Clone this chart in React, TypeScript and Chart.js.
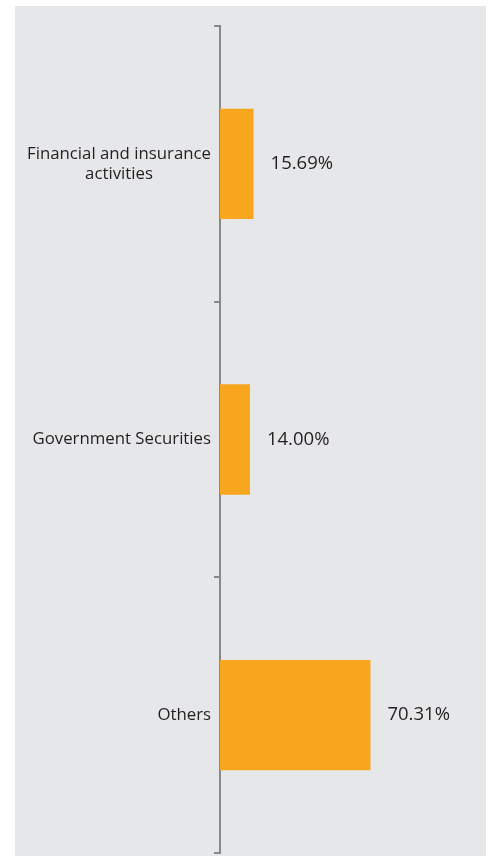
import React, { useEffect, useRef } from "react";
import { Chart, registerables } from "chart.js";

Chart.register(...registerables);

const categories: string[][] = [
  ["Financial and insurance", "activities"],
  ["Government Securities"],
  ["Others"],
];
const values: number[] = [15.69, 14.0, 70.31];
const valueLabels: string[] = ["15.69%", "14.00%", "70.31%"];

const FONT = "'Open Sans', 'Noto Sans', sans-serif";
const TEXT = "#231F20";

const panelPlugin = {
  id: "panel",
  beforeDraw(chart: any) {
    const ctx = chart.ctx;
    ctx.save();
    ctx.fillStyle = "#E6E7E8";
    ctx.fillRect(15, 6, 471, 850);
    ctx.restore();
  },
};

const labelsPlugin = {
  id: "labelsPlugin",
  afterDraw(chart: any) {
    const ctx = chart.ctx;
    const y = chart.scales.y;
    const x = chart.scales.x;
    ctx.save();
    ctx.fillStyle = TEXT;
    ctx.textBaseline = "middle";
    const lh = 20;
    categories.forEach((lines, i) => {
      const cy = y.getPixelForValue(i);
      ctx.font = `16.8px ${FONT}`;
      const maxW = Math.max(...lines.map((l) => ctx.measureText(l).width));
      const cx = 211 - maxW / 2;
      ctx.textAlign = "center";
      const startY = cy - ((lines.length - 1) * lh) / 2;
      lines.forEach((l, k) => ctx.fillText(l, cx, startY + k * lh));
      ctx.textAlign = "left";
      ctx.font = `18.5px ${FONT}`;
      const vx = x.getPixelForValue(values[i]);
      ctx.fillText(valueLabels[i], vx + 17, cy);
    });
    ctx.restore();
  },
};

export default function App() {
  const ref = useRef<HTMLCanvasElement | null>(null);
  useEffect(() => {
    if (!ref.current) return;
    const chart = new Chart(ref.current, {
      type: "bar",
      data: {
        labels: categories.map((c) => c.join(" ")),
        datasets: [
          {
            data: values,
            backgroundColor: "#F8A61E",
            borderWidth: 0,
            categoryPercentage: 1,
            barPercentage: 0.4,
          },
        ],
      },
      options: {
        indexAxis: "y",
        animation: false,
        responsive: false,
        maintainAspectRatio: false,
        layout: { padding: { left: 0, top: 26, right: 54, bottom: 3 } },
        plugins: { legend: { display: false }, tooltip: { enabled: false } },
        scales: {
          x: { display: false, min: 0, max: 100 },
          y: {
            afterFit(scale: any) {
              scale.width = 220;
            },
            ticks: { display: false },
            grid: {
              offset: true,
              drawOnChartArea: false,
              drawTicks: true,
              tickLength: 6,
              color: "#888888",
              lineWidth: 2,
            },
            border: { display: true, color: "#888888", width: 2 },
          },
        },
      },
      plugins: [panelPlugin, labelsPlugin],
    });
    return () => chart.destroy();
  }, []);
  return (
    <div style={{ position: "absolute", left: 0, top: 0, width: 488, height: 856 }}>
      <canvas ref={ref} width={488} height={856} style={{ display: "block" }} />
    </div>
  );
}
